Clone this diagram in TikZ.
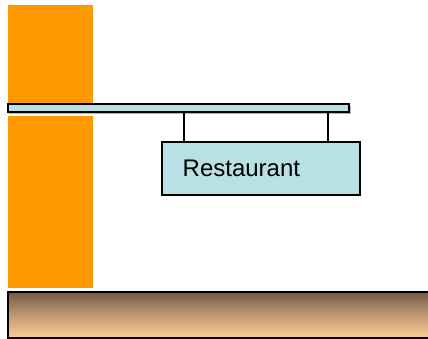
\documentclass[tikz,border=0pt]{standalone}
\usepackage{fontspec}
\setmainfont{Liberation Sans}
\definecolor{pillar}{RGB}{255,153,0}
\definecolor{signblue}{RGB}{185,224,229}
\definecolor{groundtop}{RGB}{115,90,66}
\definecolor{groundbot}{RGB}{255,204,153}
\tikzset{
  pillarpart/.style={fill=pillar, draw=none},
  beam/.style={fill=signblue, draw=black, line width=1.6pt},
  signbox/.style={fill=signblue, draw=black, line width=1.4pt, minimum width=198pt, minimum height=53pt, inner sep=0pt},
  signtext/.style={font=\fontsize{24}{27}\selectfont, inner sep=0pt},
  hanger/.style={draw=black, line width=1.2pt},
  ground/.style={top color=groundtop, bottom color=groundbot, middle color=groundtop!45!groundbot, draw=black, line width=2pt}
}
\begin{document}
\begin{tikzpicture}[x=1pt, y=-1pt]
  \useasboundingbox (0,0) rectangle (428,339);
  % wall pillar, split around the beam
  \fill[pillarpart] (8,5) rectangle (93,103);
  \fill[pillarpart] (8,116) rectangle (93,288);
  % beam with a faint shadow
  \fill[gray!60] (9,106) rectangle (351,114);
  \draw[beam] (8,104) rectangle (349,112);
  \coordinate (beamL) at (184,112);
  \coordinate (beamR) at (328,112);
  % hanging sign
  \node[signbox] (sign) at (261,168.5) {};
  \node[signtext, anchor=base west] (label) at (182.5,176.5) {Restaurant};
  \draw[hanger] (beamL) -- (beamL |- sign.north);
  \draw[hanger] (beamR) -- (beamR |- sign.north);
  % ground strip
  \draw[ground] (8,292) rectangle (432,338);
\end{tikzpicture}
\end{document}
